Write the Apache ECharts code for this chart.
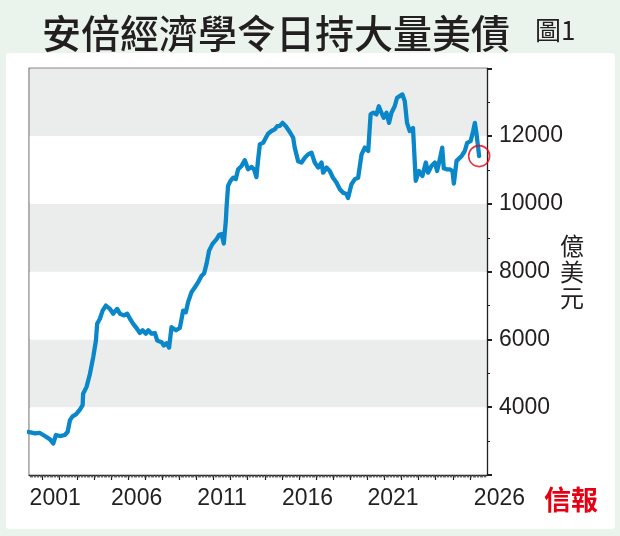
<!DOCTYPE html>
<html>
<head>
<meta charset="utf-8">
<title>安倍經濟學令日持大量美債</title>
<script src="https://cdn.jsdelivr.net/npm/echarts@6/dist/echarts.min.js"></script>
<style>
    html, body { margin: 0; padding: 0; background: #eaf3ec; }
    #panel { position: absolute; left: 6px; top: 53px; width: 609px; height: 476px; background: #fff; border-radius: 3px; }
    #main { position: absolute; left: 0; top: 0; width: 620px; height: 536px; }
</style>
</head>
<body>
<div id="panel"></div>
<div id="main"></div>
<script>
// 日本持有美國國債 (億美元)
var years = [
    2000.16, 2000.55, 2000.84, 2001.13, 2001.43, 2001.62, 2001.78, 2002.01, 2002.30, 2002.46,
    2002.60, 2002.75, 2002.95, 2003.18, 2003.34, 2003.37, 2003.57, 2003.77, 2003.96, 2004.12,
    2004.19, 2004.35, 2004.51, 2004.70, 2004.94, 2005.13, 2005.36, 2005.52, 2005.75, 2005.95,
    2006.11, 2006.30, 2006.53, 2006.69, 2006.85, 2007.04, 2007.18, 2007.37, 2007.57, 2007.70,
    2007.96, 2008.09, 2008.25, 2008.40, 2008.54, 2008.80, 2009.03, 2009.22, 2009.38, 2009.51,
    2009.71, 2009.91, 2010.10, 2010.30, 2010.45, 2010.59, 2010.74, 2010.94, 2011.18, 2011.33,
    2011.47, 2011.60, 2011.72, 2011.76, 2011.85, 2011.99, 2012.15, 2012.30, 2012.44, 2012.64,
    2012.83, 2013.02, 2013.22, 2013.37, 2013.51, 2013.60, 2013.71, 2013.90, 2014.06, 2014.19,
    2014.39, 2014.58, 2014.72, 2014.88, 2015.04, 2015.23, 2015.46, 2015.66, 2015.75, 2015.95,
    2016.15, 2016.34, 2016.53, 2016.73, 2016.92, 2017.12, 2017.32, 2017.41, 2017.61, 2017.80,
    2017.99, 2018.19, 2018.39, 2018.58, 2018.78, 2018.87, 2019.07, 2019.27, 2019.46, 2019.66,
    2019.85, 2020.05, 2020.19, 2020.34, 2020.53, 2020.67, 2020.82, 2020.96, 2021.12, 2021.27,
    2021.41, 2021.60, 2021.74, 2021.89, 2022.05, 2022.19, 2022.32, 2022.48, 2022.67, 2022.83,
    2023.02, 2023.22, 2023.42, 2023.55, 2023.75, 2023.95, 2024.08, 2024.24, 2024.38, 2024.47,
    2024.63, 2024.82, 2024.98, 2025.06, 2025.22, 2025.51, 2025.70, 2025.84, 2026.04, 2026.19,
    2026.29, 2026.39, 2026.48, 2026.54
];
var holdings = [
    3270, 3230, 3240, 3150, 3050, 2930, 3180, 3150, 3180, 3270,
    3620, 3730, 3790, 3930, 4060, 4400, 4600, 4990, 5480, 5970,
    6460, 6610, 6850, 7000, 6900, 6760, 6900, 6760, 6710, 6760,
    6610, 6460, 6310, 6190, 6270, 6170, 6270, 6170, 6190, 5970,
    5920, 5820, 5890, 5760, 6360, 6270, 6340, 6850, 6800, 7100,
    7390, 7540, 7690, 7880, 7950, 8230, 8620, 8820, 8960, 9090,
    9110, 8830, 9500, 9890, 10530, 10680, 10770, 10730, 11020, 11120,
    11290, 11020, 11090, 11020, 10790, 11270, 11760, 11800, 11950, 12070,
    12150, 12200, 12290, 12300, 12390, 12290, 12120, 11950, 11660, 11260,
    11220, 11360, 11460, 11510, 11220, 11070, 11220, 10920, 11070, 10970,
    10770, 10630, 10430, 10330, 10290, 10170, 10580, 10730, 10770, 11460,
    11660, 11560, 12640, 12690, 12640, 12880, 12690, 12540, 12690, 12390,
    12690, 12880, 13130, 13180, 13230, 13030, 12390, 12150, 12240, 10680,
    10970, 10820, 11220, 10920, 11120, 11220, 10970, 11320, 11660, 11050,
    11020, 11020, 10970, 10600, 11270, 11410, 11560, 11800, 11850, 12150,
    12390, 12050, 12100, 11410
];
var yearLabels = [2001, 2006, 2011, 2016, 2021, 2026];
var valueLabels = [4000, 6000, 8000, 10000, 12000];

var ink = '#231f20';
var numFont = 'Liberation Sans';
var cjkFont = 'Noto Sans CJK TC';

var yearTicks = [];
for (var y = 2001; y <= 2026; y++) yearTicks.push(y);
var monthTicks = [];
for (var m = 2000 * 12 + 3; m < 2027 * 12; m++) monthTicks.push(m / 12);

var lineData = years.map(function (t, i) { return [t, holdings[i]]; });
var lastPoint = lineData[lineData.length - 1];

var myChart = echarts.init(document.getElementById('main'), null, { renderer: 'canvas' });

var option = {
    animation: false,
    title: {
        text: '安倍經濟學令日持大量美債',
        left: 42,
        top: 14,
        padding: 0,
        textStyle: { fontFamily: cjkFont, fontSize: 39, fontWeight: 500, color: ink }
    },
    graphic: [
        {
            type: 'text', x: 535, y: 30,
            style: { text: '圖1', fontFamily: cjkFont, fontSize: 26, fontWeight: 'normal', fill: ink, verticalAlign: 'middle' }
        },
        {
            type: 'text', x: 571, y: 500,
            style: { text: '信報', fontFamily: cjkFont, fontSize: 27, fontWeight: 'bold', fill: '#e60012', align: 'center', verticalAlign: 'middle' }
        }
    ],
    grid: {
        left: 29.3, right: 133, top: 68.3, bottom: 61,
        show: true, borderColor: ink, borderWidth: 1.3, backgroundColor: '#fff'
    },
    xAxis: [
        {
            type: 'value', min: 2000.22, max: 2027, position: 'bottom',
            axisLine: { show: true, lineStyle: { color: ink, width: 1.3 } },
            axisTick: { show: true, customValues: yearTicks, length: 5, lineStyle: { color: ink, width: 1.2 } },
            axisLabel: {
                customValues: yearLabels.map(function (v) { return v + 0.5; }),
                margin: 12, color: ink, fontFamily: numFont, fontSize: 23,
                formatter: function (v) {
                    var yr = Math.floor(v);
                    if (yr === yearLabels[yearLabels.length - 1]) return '{r|' + yr + '}';
                    if (yr === yearLabels[0]) return '{f|' + yr + '}';
                    return '' + yr;
                },
                rich: {
                    r: { padding: [0, 0, 0, 42], color: ink, fontFamily: numFont, fontSize: 23 },
                    f: { padding: [0, 0, 0, 8], color: ink, fontFamily: numFont, fontSize: 23 }
                }
            },
            splitLine: { show: false }
        },
        {
            type: 'value', min: 2000.22, max: 2027, position: 'bottom',
            axisLine: { show: false },
            axisTick: { show: true, customValues: monthTicks, length: 2.5, lineStyle: { color: '#4a4647', width: 0.8 } },
            axisLabel: { show: false },
            splitLine: { show: false }
        }
    ],
    yAxis: {
        type: 'value', min: 2000, max: 14000, interval: 2000, position: 'right',
        name: '億\n美\n元', nameLocation: 'middle', nameRotate: 0, nameGap: 73,
        nameMoveOverlap: false,
        nameTextStyle: { fontFamily: cjkFont, fontSize: 24, lineHeight: 26, color: ink },
        axisLine: { show: true, lineStyle: { color: ink, width: 1.3 } },
        axisTick: { show: true, length: 5, lineStyle: { color: ink, width: 2 } },
        minorTick: { show: true, splitNumber: 2, length: 3, lineStyle: { color: ink, width: 1 } },
        axisLabel: {
            margin: 12, color: ink, fontFamily: numFont, fontSize: 23,
            formatter: function (v) { return valueLabels.indexOf(v) >= 0 ? '' + v : ''; }
        },
        splitLine: { show: false },
        splitArea: { show: true, areaStyle: { color: ['#ffffff', '#ebeded'] } }
    },
    series: [
        {
            type: 'line',
            data: lineData,
            showSymbol: false,
            lineStyle: { color: '#0a87c8', width: 4.3, join: 'round', cap: 'round' },
            z: 3
        },
        {
            type: 'scatter',
            data: [lastPoint],
            symbolSize: 21,
            itemStyle: { color: 'rgba(0,0,0,0)', borderColor: '#e60012', borderWidth: 1.6 },
            z: 4
        }
    ]
};

myChart.setOption(option);
window.addEventListener('resize', myChart.resize);
</script>
</body>
</html>
